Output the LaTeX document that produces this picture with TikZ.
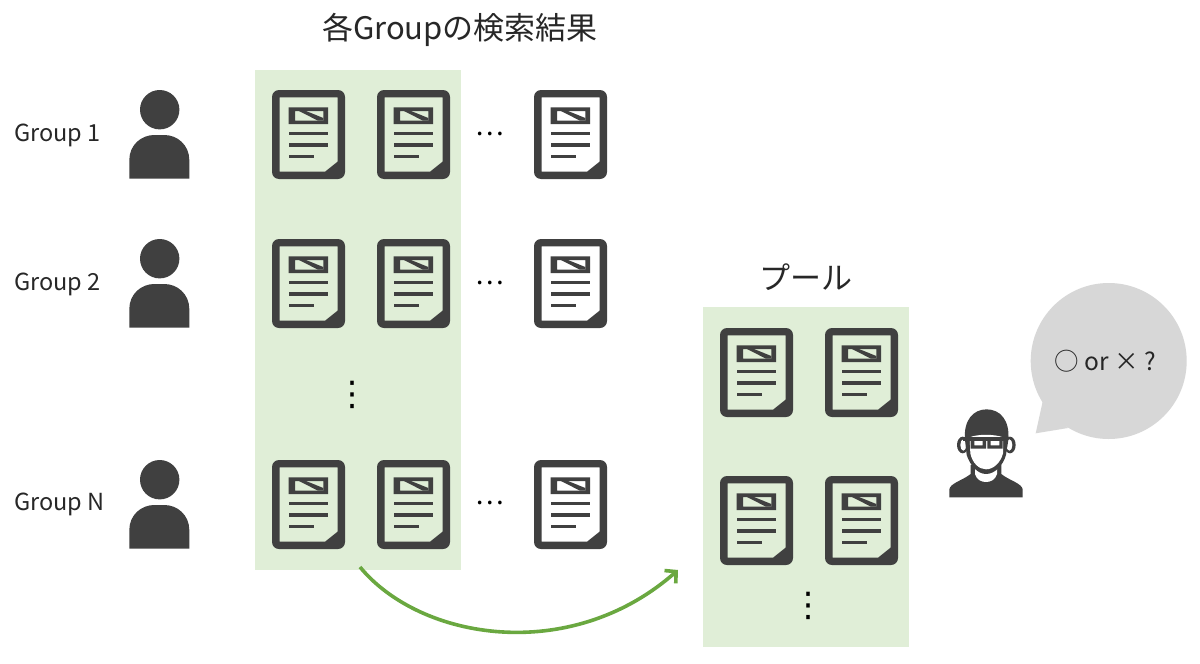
\documentclass[tikz,border=0pt]{standalone}
\usepackage{fontspec}
\setmainfont{Noto Sans CJK JP}
\newfontfamily\symfont{DejaVu Sans}
\usetikzlibrary{arrows.meta}
\definecolor{ink}{HTML}{404040}
\definecolor{panelgreen}{HTML}{E0EED7}
\definecolor{arrowgreen}{HTML}{6AA840}
\definecolor{bubblegray}{HTML}{D7D7D7}
\tikzset{
  panel/.style={fill=panelgreen,draw=none,inner sep=0pt,outer sep=0pt,anchor=north west},
  lbl/.style={font=\fontsize{23.5}{28}\selectfont,text=ink!60!black,inner sep=0pt},
  title/.style={font=\fontsize{31}{36}\selectfont,text=ink!60!black,inner sep=0pt},
  dots/.style={font=\fontsize{27}{30}\selectfont,text=black,inner sep=0pt},
  vdots/.style={font=\symfont\fontsize{34}{38}\selectfont,text=black,inner sep=0pt},
  docicon/.pic={
    \fill[ink,even odd rule]
      [rounded corners=7pt] (0,0) -- (73,0) -- (73,89) -- (0,89) -- cycle
      [sharp corners] (7.5,7.3) -- (65.5,7.3) -- (65.5,71.7) -- (53,81.7) -- (7.5,81.7) -- cycle;
    \fill[ink,even odd rule] (16.7,17.3) rectangle (56,34)
      (23,21) -- (51.3,21) -- (51.3,30.7) -- (23,30.7) -- cycle;
    \fill[ink] (27,21) -- (34,21) -- (51.3,28) -- (51.3,30.7) -- (46,30.7) -- cycle;
    \fill[ink] (16.7,42) rectangle (56,45.4);
    \fill[ink] (16.7,53.3) rectangle (56,56.7);
    \fill[ink] (16.7,65) rectangle (42,68.3);
  },
  personicon/.pic={
    \fill[ink] (30.4,19.7) circle[radius=19.7];
    \fill[ink] (0,88.7) -- (0,70) .. controls (0,55) and (12,45) .. (25,45) -- (35,45) .. controls (48,45) and (60,55) .. (60,70) -- (60,88.7) -- cycle;
  }
}
\begin{document}
\begin{tikzpicture}[x=1pt,y=-1pt]
\useasboundingbox (0,0) rectangle (1200,664);
\fill[white] (0,0) rectangle (1200,664);
% panels
\node[panel,minimum width=206pt,minimum height=500pt] (panelA) at (255,70) {};
\node[panel,minimum width=206pt,minimum height=340pt] (panelB) at (703,307) {};
% titles
\node[title] (titleA) at (460,30) {各Groupの検索結果};
\node[title] (titleB) at (806,277) {プール};
% labels
\node[lbl,anchor=west] (g1) at (14,135.5) {Group 1};
\node[lbl,anchor=west] (g2) at (14,284) {Group 2};
\node[lbl,anchor=west] (gn) at (14,504) {Group N};
% persons
\foreach \yy in {90,239,460} { \pic at (129.3,\yy) {personicon}; }
% documents
\foreach \yy in {90,239,460} {
  \pic at (272,\yy) {docicon};
  \pic at (377,\yy) {docicon};
  \pic at (534,\yy) {docicon};
}
\foreach \yy in {328,476} {
  \pic at (720,\yy) {docicon};
  \pic at (825,\yy) {docicon};
}
% ellipses
\node[dots] (d1) at (490,134) {…};
\node[dots] (d2) at (490,283) {…};
\node[dots] (d3) at (490,503) {…};
\node[vdots] (v1) at (352,395) {⋮};
\node[vdots] (v2) at (808,606) {⋮};
% arrow
\coordinate (arrowstart) at (360,567);
\coordinate (arrowend) at (678,570);
\draw[arrowgreen,line width=3.6pt,-{Straight Barb[length=8pt,width=17pt]}] (arrowstart) .. controls (420,640) and (570,665) .. (arrowend);
% bubble
\fill[bubblegray] (1108.7,361) circle[radius=78];
\fill[bubblegray] (1035.7,433.3) -- (1043,400) -- (1068,428) -- cycle;
\node[lbl,text=black!85,font=\fontsize{24.5}{28}\selectfont] (q) at (1105,361) {○ or × ?};
% reviewer
\begin{scope}[shift={(940,400)},x=0.3333pt,y=-0.3333pt]
  % body
  \fill[ink] (28,292) -- (28,268) .. controls (30,250) and (70,240) .. (92,222) -- (92,195) -- (184,195) -- (184,222) .. controls (205,240) and (246,250) .. (248,268) -- (248,292) -- cycle;
  \fill[white] (105,195) -- (105,222) .. controls (110,240) and (125,246) .. (138,246) .. controls (151,246) and (166,240) .. (171,222) -- (171,195) -- cycle;
  % ears
  \fill[ink] (68,135) circle[x radius=17,y radius=25];
  \fill[ink] (210,135) circle[x radius=17,y radius=25];
  \fill[white] (70,135) circle[x radius=9,y radius=17];
  \fill[white] (208,135) circle[x radius=9,y radius=17];
  % head
  \fill[ink] (75,120) .. controls (70,60) and (100,28) .. (140,28) .. controls (180,28) and (210,60) .. (205,120) -- (198,165) .. controls (190,195) and (165,222) .. (138,222) .. controls (112,222) and (90,195) .. (80,165) -- cycle;
  \fill[white] (89,112) .. controls (110,102) and (165,102) .. (189,112) -- (189,160) .. controls (182,188) and (160,208) .. (138,208) .. controls (116,208) and (97,188) .. (91,160) -- cycle;
  % glasses
  \fill[ink,even odd rule] (92,112) rectangle (138,146) (103,122) rectangle (128,136);
  \fill[ink,even odd rule] (142,112) rectangle (188,146) (152,122) rectangle (178,136);
  \fill[ink] (70,112) rectangle (205,122);
\end{scope}
\end{tikzpicture}
\end{document}
